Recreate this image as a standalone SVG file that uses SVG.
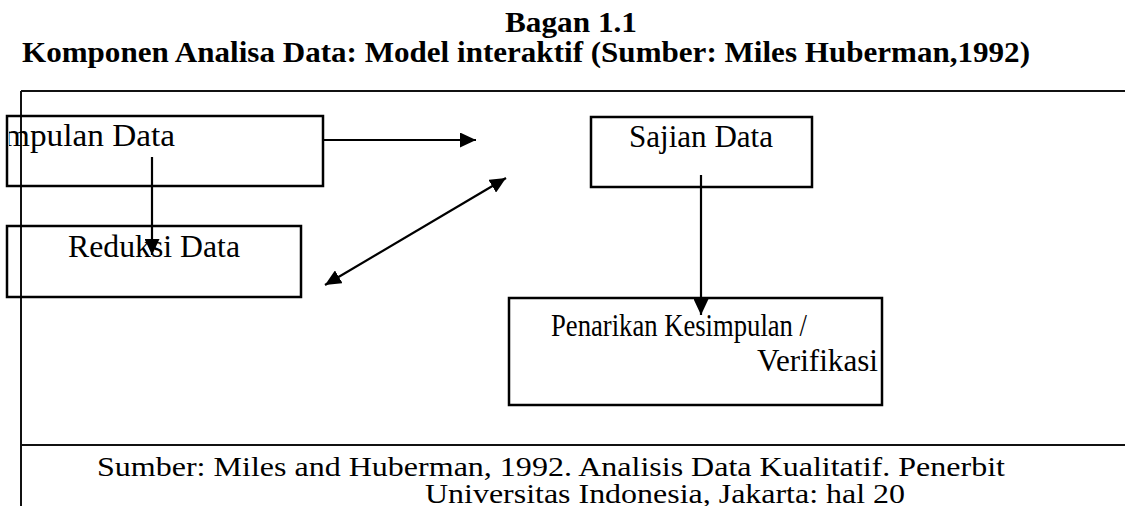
<svg xmlns="http://www.w3.org/2000/svg" width="1125" height="506" viewBox="0 0 1125 506">
<defs>
<style>
.t{font-family:"Liberation Serif","Times New Roman",serif;fill:#000}
.title{font-size:30px;font-weight:bold}
.lbl{font-size:32px}
.foot{font-size:28px}
.box{fill:none;stroke:#000;stroke-width:2.5}
.frame{stroke:#111;stroke-width:2;fill:none}
.conn{stroke:#000;stroke-width:2.2;fill:none}
</style>
<marker id="ah" viewBox="0 0 16 15" refX="16" refY="7.5" markerWidth="16" markerHeight="15" markerUnits="userSpaceOnUse" orient="auto-start-reverse">
<path d="M0,0 L16,7.5 L0,15 Z" fill="#000"/>
</marker>
<clipPath id="clipA"><rect x="9" y="110" width="320" height="80"/></clipPath>
</defs>
<rect width="1125" height="506" fill="#fff"/>
<g id="title">
<text class="t title" x="505" y="32" textLength="132" lengthAdjust="spacingAndGlyphs">Bagan 1.1</text>
<text class="t title" x="22" y="62" textLength="1008" lengthAdjust="spacingAndGlyphs">Komponen Analisa Data: Model interaktif (Sumber: Miles Huberman,1992)</text>
</g>
<g id="frame">
<path class="frame" d="M21,91 H1125 M21,91 V506 M21,445 H1125"/>
</g>
<g id="node-pengumpulan">
<rect class="box" x="7" y="116" width="316" height="70"/>
<text class="t lbl" x="4" y="146" textLength="171" lengthAdjust="spacingAndGlyphs" clip-path="url(#clipA)">mpulan Data</text>
</g>
<g id="node-reduksi">
<rect class="box" x="7" y="226" width="294" height="71"/>
<text class="t lbl" x="68" y="257" textLength="172" lengthAdjust="spacingAndGlyphs">Reduksi Data</text>
</g>
<g id="node-sajian">
<rect class="box" x="591" y="117" width="221" height="70"/>
<text class="t lbl" x="629" y="147" textLength="144" lengthAdjust="spacingAndGlyphs">Sajian Data</text>
</g>
<g id="node-penarikan">
<rect class="box" x="509" y="298" width="373" height="107"/>
<text class="t lbl" x="551" y="336" textLength="256" lengthAdjust="spacingAndGlyphs">Penarikan Kesimpulan /</text>
<text class="t lbl" x="757" y="371" textLength="121" lengthAdjust="spacingAndGlyphs">Verifikasi</text>
</g>
<g id="connectors">
<line class="conn" x1="323" y1="140" x2="476" y2="140" marker-end="url(#ah)"/>
<line class="conn" x1="152" y1="157" x2="152" y2="255" marker-end="url(#ah)"/>
<line class="conn" x1="325" y1="285" x2="506" y2="178" marker-start="url(#ah)" marker-end="url(#ah)"/>
<line class="conn" x1="701" y1="175" x2="701" y2="315" marker-end="url(#ah)"/>
</g>
<g id="footer">
<text class="t foot" x="97" y="476" textLength="908" lengthAdjust="spacingAndGlyphs">Sumber: Miles and Huberman, 1992. Analisis Data Kualitatif. Penerbit</text>
<text class="t foot" x="425" y="503" textLength="480" lengthAdjust="spacingAndGlyphs">Universitas Indonesia, Jakarta: hal 20</text>
</g>
</svg>
